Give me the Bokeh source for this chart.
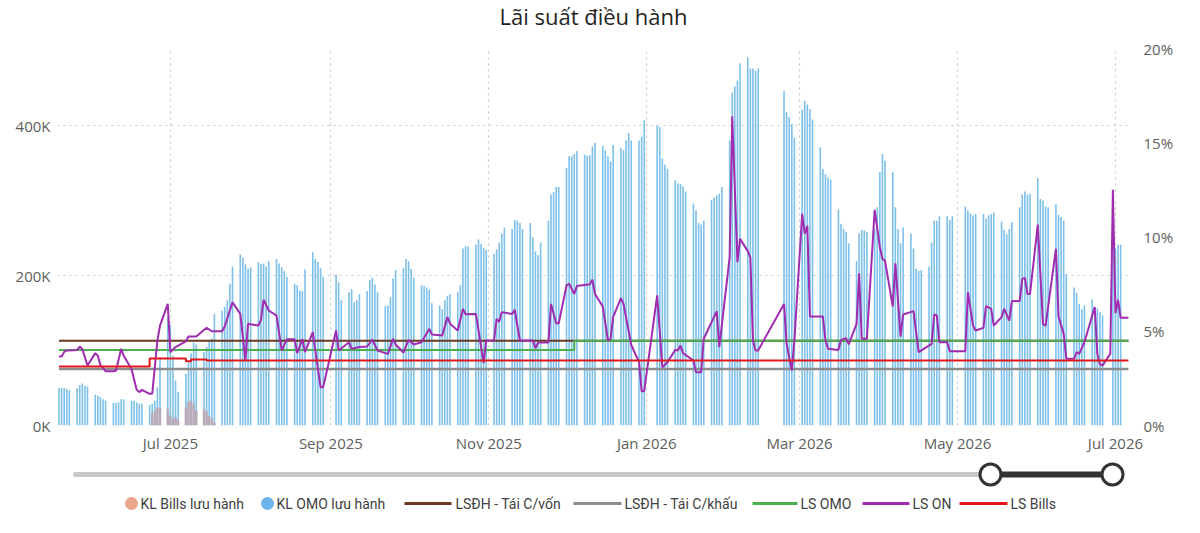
import pandas as pd
from bokeh.plotting import figure
from bokeh.models import Range1d, LinearAxis, FixedTicker, DatetimeTickFormatter
from bokeh.layouts import column
from bokeh.embed import file_html
from bokeh.resources import INLINE
from bokeh.core.properties import value

FONT = "Open Sans"
LEG_FONT = "Roboto"

# ---------------- data ----------------
title_text = "Lãi suất điều hành"
x_tick_dates = ["2025-07-01", "2025-09-01", "2025-11-01", "2026-01-01",
                "2026-03-01", "2026-05-01", "2026-07-01"]
left_ticks = [0, 200, 400]
left_tick_labels = ["0K", "200K", "400K"]
right_ticks = [0, 5, 10, 15, 20]
right_tick_labels = ["0%", "5%", "10%", "15%", "20%"]

legend_labels = ["KL Bills lưu hành", "KL OMO lưu hành", "LSĐH - Tái C/vốn",
                 "LSĐH - Tái C/khấu", "LS OMO", "LS ON", "LS Bills"]

# KL OMO lưu hành (thousand bn), Mon..Fri per week starting at first_week; None = holiday
first_week = "2025-05-19"
omo_weekly = [
    [50, 50, 50, 49, 47], [50, 54, 56, 53, 52], [41, 40, 38, 35, 33],
    [30, 30, 31, 35, 35], [33, 33, 31, 29, 29], [27, 29, 33, 51, 91],
    [144, 134, 93, 60, 45], [69, 84, 96, 111, 108], [98, 105, 113, 116, 149],
    [153, 158, 167, 189, 212], [228, 224, 215, 209, 211], [218, 215, 216, 212, 219],
    [222, 216, 211, 206, 198], [189, 187, 180, 179, 208], [231, 222, 218, 210, 198],
    [None, None, 201, 191, 167], [178, 182, 164, 167, 175], [179, 194, 197, 188, 178],
    [159, 160, 171, 196, 207], [210, 222, 219, 209, 197], [187, 186, 184, 181, 163],
    [160, 155, 167, 173, 175], [178, 187, 236, 239, 239], [241, 248, 242, 237, 234],
    [229, 235, 244, 256, 264], [262, 274, 273, 270, 262], [270, 251, 232, 227, 244],
    [273, 308, 311, 318, 318], [343, 359, 359, 362, 366], [361, 360, 360, 372, 377],
    [373, 367, 359, 352, 374], [370, 367, 380, 390, 380], [380, 385, 407, None, None],
    [400, 398, 356, 348, 342], [327, 323, 322, 319, 312], [296, 287, 270, 268, 273],
    [301, 304, 307, 309, 318], [380, 444, 452, 460, 483], [491, 476, 476, 473, 476],
    [None, None, None, None, None], [446, 418, 411, 402, 384], [421, 433, 428, 422, 408],
    [371, 342, 335, 331, 328], [288, 269, 262, 258, 243], [219, 256, 261, 260, 258],
    [262, 291, 338, 362, 353], [338, 291, 262, 243, 264], [256, 236, 209, 206, 207],
    [212, 244, 273, 273, 279], [279, 274, 279, None, None], [292, 287, 283, 280, 282],
    [282, 276, 280, 282, 284], [272, 261, 255, 262, 271], [291, 308, 312, 308, 309],
    [330, 302, 300, 292, 291], [295, 281, 278, 273, 202], [184, 177, 162, 155, 160],
    [168, 158, 156, 151, 147], [None, 237, 236, 241, 241],
]

# KL Bills lưu hành (thousand bn)
bills_first_week = "2025-06-23"
bills_weekly = [
    [None, 16, 20, 24, 24], [22, 13, 9, 11, 7], [24, 32, 33, 29, 20], [22, 19, 13, 9, 4],
]

# LS ON (%)
on_dates = [
    "2025-05-19", "2025-05-20", "2025-05-21", "2025-05-22", "2025-05-23", "2025-05-26",
    "2025-05-27", "2025-05-28", "2025-05-30", "2025-06-02", "2025-06-03", "2025-06-04",
    "2025-06-06", "2025-06-09", "2025-06-10", "2025-06-12", "2025-06-13", "2025-06-16",
    "2025-06-18", "2025-06-19", "2025-06-20", "2025-06-23", "2025-06-24", "2025-06-26",
    "2025-06-27", "2025-06-30", "2025-07-01", "2025-07-03", "2025-07-07", "2025-07-08",
    "2025-07-11", "2025-07-15", "2025-07-17", "2025-07-21", "2025-07-22", "2025-07-25",
    "2025-07-28", "2025-07-30", "2025-07-31", "2025-08-04", "2025-08-05", "2025-08-06",
    "2025-08-08", "2025-08-11", "2025-08-13", "2025-08-15", "2025-08-18", "2025-08-19",
    "2025-08-21", "2025-08-22", "2025-08-25", "2025-08-28", "2025-08-29", "2025-09-03",
    "2025-09-04", "2025-09-08", "2025-09-09", "2025-09-12", "2025-09-15", "2025-09-17",
    "2025-09-19", "2025-09-22", "2025-09-23", "2025-09-25", "2025-09-26", "2025-09-29",
    "2025-10-01", "2025-10-03", "2025-10-06", "2025-10-09", "2025-10-10", "2025-10-14",
    "2025-10-16", "2025-10-17", "2025-10-20", "2025-10-22", "2025-10-23", "2025-10-27",
    "2025-10-30", "2025-10-31", "2025-11-03", "2025-11-04", "2025-11-05", "2025-11-06",
    "2025-11-10", "2025-11-11", "2025-11-13", "2025-11-18", "2025-11-19", "2025-11-20",
    "2025-11-24", "2025-11-25", "2025-11-27", "2025-11-28", "2025-12-01", "2025-12-02",
    "2025-12-04", "2025-12-05", "2025-12-10", "2025-12-11", "2025-12-12", "2025-12-15",
    "2025-12-17", "2025-12-18", "2025-12-19", "2025-12-22", "2025-12-23", "2025-12-26",
    "2025-12-29", "2025-12-30", "2025-12-31", "2026-01-05", "2026-01-07", "2026-01-09",
    "2026-01-12", "2026-01-13", "2026-01-14", "2026-01-15", "2026-01-19", "2026-01-20",
    "2026-01-22", "2026-01-23", "2026-01-28", "2026-01-29", "2026-02-02", "2026-02-03",
    "2026-02-05", "2026-02-06", "2026-02-09", "2026-02-10", "2026-02-11", "2026-02-12",
    "2026-02-13", "2026-02-23", "2026-02-24", "2026-02-26", "2026-02-27", "2026-03-02",
    "2026-03-03", "2026-03-04", "2026-03-05", "2026-03-10", "2026-03-11", "2026-03-12",
    "2026-03-16", "2026-03-17", "2026-03-19", "2026-03-20", "2026-03-23", "2026-03-24",
    "2026-03-25", "2026-03-27", "2026-03-30", "2026-04-01", "2026-04-02", "2026-04-03",
    "2026-04-06", "2026-04-07", "2026-04-09", "2026-04-10", "2026-04-14", "2026-04-16",
    "2026-04-21", "2026-04-22", "2026-04-23", "2026-04-24", "2026-04-27", "2026-04-28",
    "2026-05-04", "2026-05-05", "2026-05-07", "2026-05-08", "2026-05-11", "2026-05-12",
    "2026-05-14", "2026-05-15", "2026-05-18", "2026-05-19", "2026-05-21", "2026-05-22",
    "2026-05-25", "2026-05-26", "2026-05-27", "2026-05-28", "2026-05-29", "2026-06-01",
    "2026-06-03", "2026-06-04", "2026-06-08", "2026-06-09", "2026-06-11", "2026-06-12",
    "2026-06-15", "2026-06-16", "2026-06-17", "2026-06-19", "2026-06-23", "2026-06-24",
    "2026-06-25", "2026-06-26", "2026-06-29", "2026-06-30", "2026-07-01", "2026-07-02",
    "2026-07-03", "2026-07-06",
]
on_rates = [
    3.66, 3.66, 3.90, 3.98, 3.98, 4.01,
    4.19, 4.05, 3.18, 3.84, 3.70, 3.20,
    2.88, 2.88, 2.90, 4.07, 3.70, 3.00,
    1.90, 1.77, 1.89, 1.68, 1.68, 4.51,
    5.30, 6.45, 3.89, 4.16, 4.46, 4.72,
    4.72, 5.18, 5.00, 5.00, 5.25, 6.54,
    5.92, 3.45, 5.40, 5.30, 5.60, 6.67,
    6.10, 5.83, 3.98, 4.58, 4.58, 3.84,
    4.58, 3.89, 4.95, 2.03, 2.03, 5.04,
    3.98, 4.42, 4.07, 4.16, 4.19, 4.56,
    3.98, 3.84, 3.80, 4.60, 4.30, 3.87,
    4.54, 4.30, 4.42, 5.13, 4.83, 4.77,
    5.75, 5.40, 5.04, 6.19, 5.90, 5.92,
    3.31, 4.51, 4.51, 5.66, 5.50, 6.01,
    5.92, 6.14, 4.51, 4.51, 4.10, 4.40,
    4.40, 6.45, 5.43, 5.43, 7.43, 7.52,
    6.98, 7.40, 7.49, 7.73, 6.98, 6.31,
    4.51, 4.60, 5.75, 6.76, 6.45, 4.27,
    3.36, 1.82, 1.82, 6.90, 3.09, 3.36,
    4.02, 3.98, 4.24, 3.84, 3.45, 2.83,
    2.83, 4.60, 6.07, 4.16, 8.93, 16.40,
    8.66, 9.90, 9.25, 8.90, 4.51, 3.98,
    3.98, 6.45, 4.33, 2.92, 4.51, 11.23,
    10.17, 10.60, 5.78, 5.78, 4.51, 4.07,
    4.01, 4.54, 4.63, 4.30, 5.39, 8.08,
    4.60, 4.60, 11.44, 9.46, 8.84, 8.75,
    6.31, 8.61, 4.72, 5.89, 6.07, 3.89,
    4.33, 5.89, 5.84, 4.42, 4.42, 3.94,
    3.94, 7.07, 5.30, 5.04, 5.18, 6.33,
    6.19, 5.30, 5.75, 6.19, 5.57, 6.60,
    6.60, 7.78, 7.83, 6.98, 6.98, 10.66,
    5.39, 5.29, 9.37, 5.78, 4.86, 3.54,
    3.54, 3.89, 3.80, 4.42, 6.28, 3.80,
    3.24, 3.18, 3.80, 12.50, 5.96, 6.67,
    5.71, 5.71,
]

# Step-wise policy rates (%)
tai_cap_von_dates = ["2025-05-19", "2026-07-06"]
tai_cap_von_rates = [4.5, 4.5]
tai_chiet_khau_dates = ["2025-05-19", "2026-07-06"]
tai_chiet_khau_rates = [3.0, 3.0]
ls_omo_dates = ["2025-05-19", "2025-12-04", "2026-07-06"]
ls_omo_rates = [4.0, 4.5, 4.5]
ls_bills_dates = ["2025-05-19", "2025-06-23", "2025-07-07", "2025-07-09", "2025-07-15", "2026-07-06"]
ls_bills_rates = [3.13, 3.55, 3.41, 3.50, 3.45, 3.45]

# ---------------- styling ----------------
C_OMO_BAR = "#7DC0EA"
C_BILLS_BAR = "#B8AAB6"
C_BILLS_LEG = "#E9A68B"
C_OMO_LEG = "#6CB4EE"
C_BROWN = "#6B3A1F"
C_GRAY = "#8C8C8C"
C_GREEN = "#4CAF50"
C_PURPLE = "#A02CB0"
C_RED = "#E3161B"
TXT = "#605E5C"
DAY_MS = 86400000
BORDER_L, BORDER_R = 57, 71
HEADER_H = 36


def expand(first, weekly):
    d0 = pd.Timestamp(first)
    xs, ys = [], []
    for w, vals in enumerate(weekly):
        for i, v in enumerate(vals):
            if v is not None:
                xs.append(d0 + pd.Timedelta(days=7 * w + i))
                ys.append(v)
    return xs, ys


def blank(height, y_end):
    fig = figure(width=1200, height=height, x_range=Range1d(BORDER_L, 1200 - BORDER_R),
                 y_range=Range1d(y_end, y_end - height), output_backend="svg",
                 toolbar_location=None, min_border=0, min_border_left=BORDER_L,
                 min_border_right=BORDER_R, x_axis_location=None, y_axis_location=None)
    fig.grid.visible = False
    fig.outline_line_color = None
    fig.background_fill_color = "white"
    fig.border_fill_color = "white"
    return fig


omo_x, omo_y = expand(first_week, omo_weekly)
bills_x, bills_y = expand(bills_first_week, bills_weekly)

x_start = pd.Timestamp("2025-05-18 10:00")
x_end = pd.Timestamp("2026-07-06 10:00")

# ---------------- header (title), y in page pixels ----------------
h = blank(HEADER_H, HEADER_H)
h.text(x=[(BORDER_L + 1200 - BORDER_R) / 2], y=[15], text=[title_text],
       text_font=value(FONT), text_font_size="22px", text_color="#252423",
       text_align="center", text_baseline="middle")

# ---------------- main chart ----------------
p = figure(width=1200, height=455 - HEADER_H, x_axis_type="datetime",
           x_range=Range1d(x_start, x_end), y_range=Range1d(0, 502.7),
           output_backend="svg", toolbar_location=None,
           min_border_left=BORDER_L, min_border_right=BORDER_R,
           min_border_top=48 - HEADER_H, min_border_bottom=30)
p.extra_y_ranges = {"pct": Range1d(0, 20)}
p.outline_line_color = None
p.background_fill_color = "white"
p.border_fill_color = "white"

# bars
p.vbar(x=omo_x, top=omo_y, width=0.62 * DAY_MS, color=C_OMO_BAR, line_color=None)
p.vbar(x=bills_x, top=bills_y, width=0.95 * DAY_MS, color=C_BILLS_BAR, line_color=None)

# lines
p.step(x=pd.to_datetime(tai_cap_von_dates), y=tai_cap_von_rates, mode="after",
       line_color=C_BROWN, line_width=2, y_range_name="pct")
p.step(x=pd.to_datetime(tai_chiet_khau_dates), y=tai_chiet_khau_rates, mode="after",
       line_color=C_GRAY, line_width=2.5, y_range_name="pct")
p.step(x=pd.to_datetime(ls_omo_dates), y=ls_omo_rates, mode="after",
       line_color=C_GREEN, line_width=2, y_range_name="pct")
p.line(x=pd.to_datetime(on_dates), y=on_rates, line_color=C_PURPLE, line_width=2,
       y_range_name="pct")
p.step(x=pd.to_datetime(ls_bills_dates), y=ls_bills_rates, mode="after",
       line_color=C_RED, line_width=2, y_range_name="pct")

# axes
tick_ms = [int(pd.Timestamp(d).value // 10**6) for d in x_tick_dates]
xa = p.xaxis[0]
xa.ticker = FixedTicker(ticks=tick_ms)
fmt = "%b %Y"
xa.formatter = DatetimeTickFormatter(microseconds=fmt, milliseconds=fmt, seconds=fmt,
                                     minsec=fmt, minutes=fmt, hourmin=fmt, hours=fmt,
                                     days=fmt, months=fmt, years=fmt)
ya = p.yaxis[0]
ya.ticker = FixedTicker(ticks=left_ticks)
ya.major_label_overrides = {t: l for t, l in zip(left_ticks, left_tick_labels)}
ra = LinearAxis(y_range_name="pct", ticker=FixedTicker(ticks=right_ticks),
                major_label_overrides={t: l for t, l in zip(right_ticks, right_tick_labels)})
p.add_layout(ra, "right")

for ax in (xa, ya, ra):
    ax.axis_line_color = None
    ax.major_tick_line_color = None
    ax.minor_tick_line_color = None
    ax.major_tick_out = 0
    ax.major_tick_in = 0
    ax.major_label_text_font = FONT
    ax.major_label_text_font_size = "15px"
    ax.major_label_text_color = TXT
xa.major_label_standoff = 7
ya.major_label_standoff = 7
ra.major_label_standoff = 14

for g in (p.xgrid[0], p.ygrid[0]):
    g.grid_line_color = "#C8C8C8"
    g.grid_line_dash = "2 4"
    g.grid_line_width = 1.2

# ---------------- footer: range slider + legend (page pixels) ----------------
f = blank(78, 533)

f.line([75, 990], [474, 474], line_color="#C8C8C8", line_width=5, line_cap="round")
f.line([990, 1112], [474, 474], line_color="#333333", line_width=6)
f.scatter([990, 1112], [474, 474], size=21, fill_color="white", line_color="#333333",
          line_width=3)

ly = 503
marker_colors = [C_BILLS_LEG, C_OMO_LEG]
marker_x = [131, 267]
f.scatter(marker_x, [ly, ly], size=13, fill_color=marker_colors, line_color=None)
line_colors = [C_BROWN, C_GRAY, C_GREEN, C_PURPLE, C_RED]
line_x0 = [404, 573, 752, 862, 959]
line_x1 = [451, 621, 797, 909, 1007]
f.segment(x0=line_x0, y0=[ly] * 5, x1=line_x1, y1=[ly] * 5,
          line_color=line_colors, line_width=3)
text_x = [140, 276, 455, 624, 800, 912, 1010]
f.text(x=text_x, y=[ly] * 7, text=legend_labels, text_font=value(LEG_FONT),
       text_font_size="14px", text_color="#404040", text_baseline="middle",
       text_align="left")

layout = column(h, p, f, spacing=0)
open("out.html", "w").write(file_html(layout, INLINE))
